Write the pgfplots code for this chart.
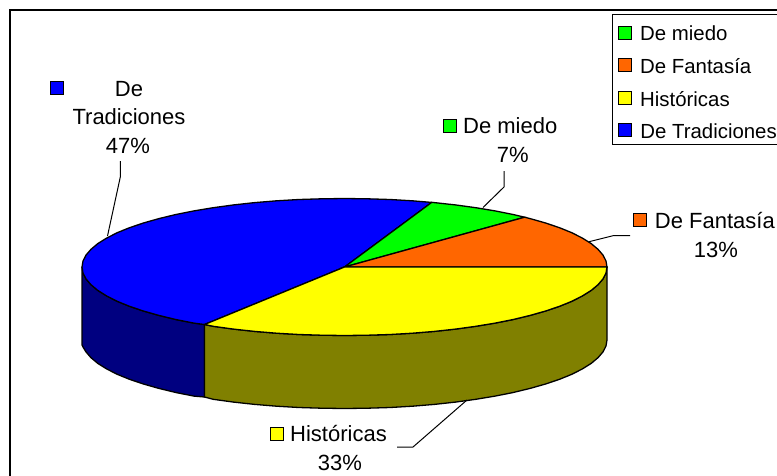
\documentclass[border=0pt]{standalone}
\usepackage{pgfplots}
\pgfplotsset{compat=1.18}
\usepackage{fontspec}
\setmainfont{Liberation Sans}
\newcommand{\lab}{\fontsize{22}{27.5}\selectfont}
\newcommand{\leg}{\fontsize{20.4}{25}\selectfont}
\begin{document}
\begin{tikzpicture}
\useasboundingbox (0,0) rectangle (777pt,475pt);
\begin{axis}[
  at={(0,0)},anchor=south west,
  width=777pt,height=475pt,scale only axis,hide axis,
  xmin=0,xmax=777,ymin=0,ymax=475,y dir=reverse,
  legend style={draw=none}]
% outer frame
\addplot[black,line width=2pt] coordinates {(10,490) (10,10) (790,10)};
% side faces
\addplot[draw=black,fill={rgb,255:red,0;green,0;blue,128},line width=1.3pt] coordinates {
(82.0,267.0)(83.0,273.0)(86.0,278.9)(91.0,284.7)(97.8,290.4)(106.6,295.9)(117.2,301.3)(129.5,306.3)(143.4,311.0)(158.9,315.4)(175.8,319.5)(193.9,323.1)(204.5,324.5)
(204.5,397)(193.9,396.1)(175.8,392.5)(158.9,388.4)(143.4,384.0)(129.5,379.3)(117.2,374.3)(106.6,368.9)(97.8,363.4)(91.0,357.7)(86.0,351.9)(83.0,347)(82.0,345)} -- cycle;
\addplot[draw=black,fill={rgb,255:red,128;green,128;blue,0},line width=1.3pt] coordinates {
(204.5,324.5)(213.2,326.3)(233.6,329.1)(254.7,331.4)(276.6,333.2)(298.9,334.5)(321.6,335.2)(344.5,335.5)(367.4,335.2)(390.1,334.5)(412.4,333.2)(434.3,331.4)(455.4,329.1)(475.8,326.3)(495.1,323.1)(513.2,319.5)(530.1,315.4)(545.6,311.0)(559.5,306.3)(571.8,301.3)(582.4,295.9)(591.2,290.4)(598.0,284.7)(603.0,278.9)(606.0,273.0)(607.0,267.0)
(607.0,340.0)(606.0,346.0)(603.0,351.9)(598.0,357.7)(591.2,363.4)(582.4,368.9)(571.8,374.3)(559.5,379.3)(545.6,384.0)(530.1,388.4)(513.2,392.5)(495.1,396.1)(475.8,399.3)(455.4,402.1)(434.3,404.4)(412.4,406.2)(390.1,407.5)(367.4,408.2)(344.5,408.5)(321.6,408.2)(298.9,407.5)(276.6,406.2)(254.7,404.4)(233.6,402.1)(213.2,399.3)(204.5,397)} -- cycle;
% top slices
\addplot[draw=black,fill={rgb,255:red,0;green,0;blue,255},line width=1.3pt] coordinates {
(344.5,267)(431.7,202.4)(412.4,200.8)(390.1,199.5)(367.4,198.8)(344.5,198.5)(321.6,198.8)(298.9,199.5)(276.6,200.8)(254.7,202.6)(233.6,204.9)(213.2,207.7)(193.9,210.9)(175.8,214.5)(158.9,218.6)(143.4,223.0)(129.5,227.7)(117.2,232.7)(106.6,238.1)(97.8,243.6)(91.0,249.3)(86.0,255.1)(83.0,261.0)(82.0,267.0)(83.0,273.0)(86.0,278.9)(91.0,284.7)(97.8,290.4)(106.6,295.9)(117.2,301.3)(129.5,306.3)(143.4,311.0)(158.9,315.4)(175.8,319.5)(193.9,323.1)(204.5,324.5)} -- cycle;
\addplot[draw=black,fill={rgb,255:red,0;green,255;blue,0},line width=1.3pt] coordinates {
(344.5,267)(524.6,217.2)(513.2,214.5)(495.1,210.9)(475.8,207.7)(455.4,204.9)(434.3,202.6)(431.7,202.4)} -- cycle;
\addplot[draw=black,fill={rgb,255:red,255;green,102;blue,0},line width=1.3pt] coordinates {
(344.5,267)(607.0,267.0)(606.0,261.0)(603.0,255.1)(598.0,249.3)(591.2,243.6)(582.4,238.1)(571.8,232.7)(559.5,227.7)(545.6,223.0)(530.1,218.6)(524.6,217.2)} -- cycle;
\addplot[draw=black,fill={rgb,255:red,255;green,255;blue,0},line width=1.3pt] coordinates {
(344.5,267)(204.5,324.5)(213.2,326.3)(233.6,329.1)(254.7,331.4)(276.6,333.2)(298.9,334.5)(321.6,335.2)(344.5,335.5)(367.4,335.2)(390.1,334.5)(412.4,333.2)(434.3,331.4)(455.4,329.1)(475.8,326.3)(495.1,323.1)(513.2,319.5)(530.1,315.4)(545.6,311.0)(559.5,306.3)(571.8,301.3)(582.4,295.9)(591.2,290.4)(598.0,284.7)(603.0,278.9)(606.0,273.0)(607.0,267.0)} -- cycle;
% leader lines
\addplot[black,line width=1pt] coordinates {(120.3,161)(120.3,177)(107.5,236)};
\addplot[black,line width=1pt] coordinates {(504,171)(504,187)(483,207.5)};
\addplot[black,line width=1pt] coordinates {(630,235.7)(613,235.7)(589,241.7)};
\addplot[black,line width=1pt] coordinates {(397,447)(413,447)(467,400)};
% legend frame
\addplot[draw=black,fill=white,line width=1pt] coordinates {(612,14.5)(790,14.5)(790,144.5)(612,144.5)} -- cycle;
% swatches
\addplot[only marks,mark=square*,mark size=6.5pt,mark options={draw=black,fill={rgb,255:red,0;green,255;blue,0},line width=0.9pt}] coordinates {(625,32.5)(450,126.3)};
\addplot[only marks,mark=square*,mark size=6.5pt,mark options={draw=black,fill={rgb,255:red,255;green,102;blue,0},line width=0.9pt}] coordinates {(625,65)(640,220)};
\addplot[only marks,mark=square*,mark size=6.5pt,mark options={draw=black,fill={rgb,255:red,255;green,255;blue,0},line width=0.9pt}] coordinates {(625,98)(276.5,433.5)};
\addplot[only marks,mark=square*,mark size=6.5pt,mark options={draw=black,fill={rgb,255:red,0;green,0;blue,255},line width=0.9pt}] coordinates {(625,130)(56.5,87.5)};
% legend text
\node[anchor=base west,inner sep=0pt,font=\leg] at (axis cs:640,40) {De miedo};
\node[anchor=base west,inner sep=0pt,font=\leg] at (axis cs:640,73) {De Fantasía};
\node[anchor=base west,inner sep=0pt,font=\leg] at (axis cs:640,106) {Históricas};
\node[anchor=base east,inner sep=0pt,font=\leg] at (axis cs:777,138) {De Tradiciones};
% data labels
\node[anchor=base,inner sep=0pt,font=\lab] at (axis cs:129,96.5) {De};
\node[anchor=base,inner sep=0pt,font=\lab] at (axis cs:129,124) {Tradiciones};
\node[anchor=base,inner sep=0pt,font=\lab] at (axis cs:128,153) {47\%};
\node[anchor=base west,inner sep=0pt,font=\lab] at (axis cs:463,133.3) {De miedo};
\node[anchor=base,inner sep=0pt,font=\lab] at (axis cs:512.7,162) {7\%};
\node[anchor=base east,inner sep=0pt,font=\lab] at (axis cs:775,228.5) {De Fantasía};
\node[anchor=base,inner sep=0pt,font=\lab] at (axis cs:716,257.5) {13\%};
\node[anchor=base west,inner sep=0pt,font=\lab] at (axis cs:290,441) {Históricas};
\node[anchor=base,inner sep=0pt,font=\lab] at (axis cs:340,470) {33\%};
\end{axis}
\end{tikzpicture}
\end{document}
